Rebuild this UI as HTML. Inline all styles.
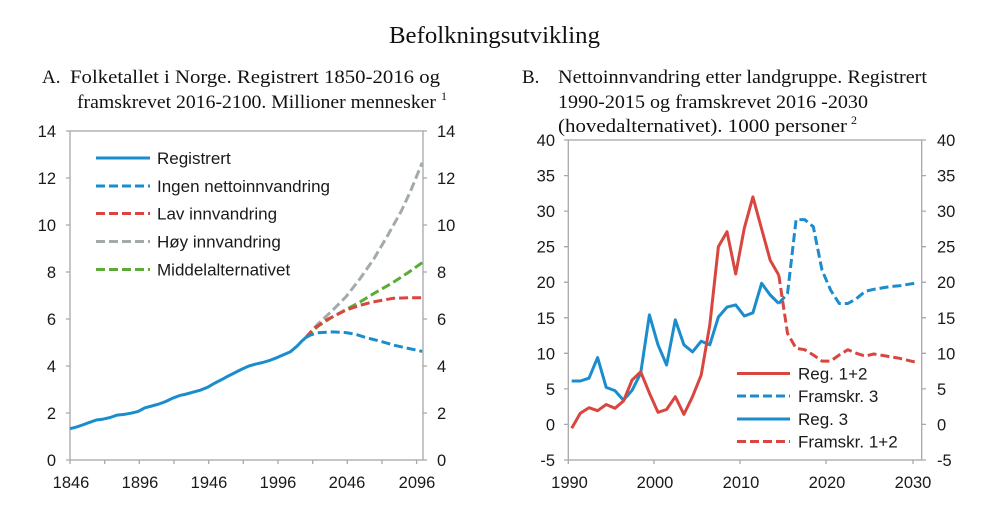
<!DOCTYPE html>
<html>
<head>
<meta charset="utf-8">
<style>
html,body{margin:0;padding:0;background:#fff;}
svg{display:block;}
.serif{font-family:"Liberation Serif","Times New Roman",serif;fill:#111;}
.sans{font-family:"Liberation Sans",Arial,sans-serif;fill:#1a1a1a;}
.tick{font-size:16.5px;}
.leg{font-size:17px;}
.ax{stroke:#a8a8a8;stroke-width:1.3;fill:none;}
.ln{fill:none;stroke-width:3;stroke-linejoin:round;stroke-linecap:butt;}
</style>
</head>
<body>
<svg width="1000" height="519" viewBox="0 0 1000 519" xmlns="http://www.w3.org/2000/svg">
<!-- Title -->
<text class="serif" x="389" y="43" font-size="24.5" textLength="211" lengthAdjust="spacingAndGlyphs">Befolkningsutvikling</text>

<!-- Subtitle A -->
<text class="serif" x="42" y="83" font-size="19">A.</text>
<text class="serif" x="70" y="83" font-size="19" textLength="370" lengthAdjust="spacingAndGlyphs">Folketallet  i Norge. Registrert   1850-2016 og</text>
<text class="serif" x="77" y="108" font-size="19" textLength="359" lengthAdjust="spacingAndGlyphs">framskrevet  2016-2100. Millioner mennesker</text>
<text class="serif" x="441" y="100" font-size="12">1</text>

<!-- Subtitle B -->
<text class="serif" x="522" y="83" font-size="19">B.</text>
<text class="serif" x="558" y="83" font-size="19" textLength="369" lengthAdjust="spacingAndGlyphs">Nettoinnvandring etter landgruppe. Registrert</text>
<text class="serif" x="558" y="108" font-size="19" textLength="310" lengthAdjust="spacingAndGlyphs">1990-2015 og framskrevet 2016 -2030</text>
<text class="serif" x="558" y="132" font-size="19" textLength="289" lengthAdjust="spacingAndGlyphs">(hovedalternativet). 1000 personer</text>
<text class="serif" x="851" y="124" font-size="12">2</text>

<!-- ============ LEFT CHART ============ -->
<rect class="ax" x="70" y="131" width="353" height="329"/>
<g class="ax">
  <path d="M66 460H70M66 413H70M66 366H70M66 319H70M66 272H70M66 225H70M66 178H70M66 131H70"/>
  <path d="M423 460H427M423 413H427M423 366H427M423 319H427M423 272H427M423 225H427M423 178H427M423 131H427"/>
  <path d="M70 460V464M104.7 460V464M139.3 460V464M174 460V464M208.7 460V464M243.3 460V464M278 460V464M312.7 460V464M347.3 460V464M382 460V464M416.6 460V464"/>
</g>
<g class="sans tick" text-anchor="end">
  <text x="56" y="466">0</text>
  <text x="56" y="419">2</text>
  <text x="56" y="372">4</text>
  <text x="56" y="325">6</text>
  <text x="56" y="278">8</text>
  <text x="56" y="231">10</text>
  <text x="56" y="184">12</text>
  <text x="56" y="137">14</text>
</g>
<g class="sans tick">
  <text x="437" y="466">0</text>
  <text x="437" y="419">2</text>
  <text x="437" y="372">4</text>
  <text x="437" y="325">6</text>
  <text x="437" y="278">8</text>
  <text x="437" y="231">10</text>
  <text x="437" y="184">12</text>
  <text x="437" y="137">14</text>
</g>
<g class="sans tick" text-anchor="middle">
  <text x="71" y="488">1846</text>
  <text x="140" y="488">1896</text>
  <text x="209" y="488">1946</text>
  <text x="278" y="488">1996</text>
  <text x="347" y="488">2046</text>
  <text x="417" y="488">2096</text>
</g>

<!-- projections -->
<polyline class="ln" stroke="#a3aaaa" stroke-dasharray="9 4" points="305.7,337.6 318.2,323.7 332.1,310.8 346,296.7 359.8,279 373.7,259.1 387.6,235.6 401.4,210.9 411.1,189.8 422.2,162.7"/>
<polyline class="ln" stroke="#5cab36" stroke-dasharray="9 4" points="305.7,337.6 318.2,326.1 332.1,317.1 346,309.6 359.8,302.1 373.7,293.6 391.7,283.3 408.3,272.5 422.2,262.6"/>
<polyline class="ln" stroke="#d9463f" stroke-dasharray="9 4" points="305.7,337.6 314,328.4 326.5,319.9 346,310.1 359.8,305.4 372.3,302.1 393.1,298.3 408.3,297.8 422.2,297.8"/>
<polyline class="ln" stroke="#1b8ccc" stroke-dasharray="9 4" points="305.7,337.6 311.3,334.7 319.6,332.6 332.1,331.9 346,332.6 355.6,334.3 366.7,337.8 380.6,341.3 394.5,345.3 408.3,348.4 422.2,351.4"/>
<!-- registered -->
<polyline class="ln" stroke="#1b8ccc" points="70,428.7 75.5,427.3 82.5,425 89.4,422.4 96.3,420 103.3,419.1 110.2,417.5 117.1,415.1 124.1,414.4 131,413.2 137.9,411.6 144.9,407.8 151.8,406 158.7,404.1 165.7,401.5 172.6,398.2 179.5,395.6 186.5,394 193.4,392.1 200.3,390.2 207.3,387.4 214.2,383.4 221.1,379.9 228.1,376.1 235,372.6 241.9,369.1 248.9,366 255.8,364.1 262.7,362.5 269.7,360.4 276.6,357.8 283.5,354.7 290.5,351.7 297.4,345.8 301.6,341.3 305.7,337.6"/>

<!-- left legend -->
<line class="ln" stroke="#1b8ccc" x1="96" y1="158" x2="150" y2="158"/>
<line class="ln" stroke="#1b8ccc" stroke-dasharray="9 4" x1="96" y1="186" x2="150" y2="186"/>
<line class="ln" stroke="#d9463f" stroke-dasharray="9 4" x1="96" y1="213.5" x2="150" y2="213.5"/>
<line class="ln" stroke="#a3aaaa" stroke-dasharray="9 4" x1="96" y1="241.5" x2="150" y2="241.5"/>
<line class="ln" stroke="#5cab36" stroke-dasharray="9 4" x1="96" y1="269.5" x2="150" y2="269.5"/>
<g class="sans leg">
  <text x="157" y="164">Registrert</text>
  <text x="157" y="192">Ingen nettoinnvandring</text>
  <text x="157" y="219.5">Lav innvandring</text>
  <text x="157" y="247.5">Høy innvandring</text>
  <text x="157" y="275.5">Middelalternativet</text>
</g>

<!-- ============ RIGHT CHART ============ -->
<rect class="ax" x="568.3" y="140" width="353.4" height="320"/>
<g class="ax">
  <path d="M564 460H568.3M564 424.4H568.3M564 388.9H568.3M564 353.3H568.3M564 317.8H568.3M564 282.2H568.3M564 246.7H568.3M564 211.1H568.3M564 175.6H568.3M564 140H568.3"/>
  <path d="M921.7 460H926M921.7 424.4H926M921.7 388.9H926M921.7 353.3H926M921.7 317.8H926M921.7 282.2H926M921.7 246.7H926M921.7 211.1H926M921.7 175.6H926M921.7 140H926"/>
  <path d="M568.3 460V464M654 460V464M740 460V464M826 460V464M913 460V464"/>
</g>
<g class="sans tick" text-anchor="end">
  <text x="555" y="466">-5</text>
  <text x="555" y="430.4">0</text>
  <text x="555" y="394.9">5</text>
  <text x="555" y="359.3">10</text>
  <text x="555" y="323.8">15</text>
  <text x="555" y="288.2">20</text>
  <text x="555" y="252.7">25</text>
  <text x="555" y="217.1">30</text>
  <text x="555" y="181.6">35</text>
  <text x="555" y="146">40</text>
</g>
<g class="sans tick">
  <text x="937" y="466">-5</text>
  <text x="937" y="430.4">0</text>
  <text x="937" y="394.9">5</text>
  <text x="937" y="359.3">10</text>
  <text x="937" y="323.8">15</text>
  <text x="937" y="288.2">20</text>
  <text x="937" y="252.7">25</text>
  <text x="937" y="217.1">30</text>
  <text x="937" y="181.6">35</text>
  <text x="937" y="146">40</text>
</g>
<g class="sans tick" text-anchor="middle">
  <text x="569.5" y="488">1990</text>
  <text x="655" y="488">2000</text>
  <text x="741" y="488">2010</text>
  <text x="827" y="488">2020</text>
  <text x="913" y="488">2030</text>
</g>

<!-- Framskr. 3 -->
<polyline class="ln" stroke="#1b8ccc" stroke-dasharray="9 4" points="778.8,303.5 787.5,293.6 796.1,219.6 804.7,219.6 813.3,226.7 822,270.1 830.6,290 839.2,303.5 847.9,303.5 856.5,298.6 865.1,291.4 873.8,289.3 882.4,287.9 891,286.5 899.6,285.8 908.3,284.3 916.9,282.9"/>
<!-- Framskr. 1+2 -->
<polyline class="ln" stroke="#d9463f" stroke-dasharray="9 4" points="778.8,275.1 787.5,333.4 796.1,348.3 804.7,349.7 813.3,355 822,361.1 830.6,361.1 839.2,355 847.9,349.7 856.5,353.3 865.1,356.1 873.8,354 882.4,355.4 891,356.9 899.6,358.3 908.3,360.4 916.9,362.5"/>
<!-- Reg. 3 -->
<polyline class="ln" stroke="#1b8ccc" points="571.7,381 580.3,381 589,378.2 597.6,357.6 606.2,387.4 614.9,390.6 623.5,400.2 632.1,390.3 640.7,373.2 649.4,314.9 658,344.8 666.6,365 675.3,319.9 683.9,344.8 692.5,351.9 701.2,341.2 709.8,344.8 718.4,317 727,307.1 735.7,304.9 744.3,316 752.9,312.8 761.6,283.3 770.2,295 778.8,303.5"/>
<!-- Reg. 1+2 -->
<polyline class="ln" stroke="#d9463f" points="571.7,428.3 580.3,413.3 589,407.7 597.6,410.7 606.2,404.5 614.9,408.3 623.5,401 632.1,380 640.7,371.8 649.4,393.1 658,412.3 666.6,409.5 675.3,396.7 683.9,414.4 692.5,396.7 701.2,375 709.8,324.9 718.4,246.6 727,231.7 735.7,274 744.3,228.2 752.9,196.9 761.6,228.9 770.2,260.2 778.8,275.1"/>

<!-- right legend -->
<line class="ln" stroke="#d9463f" x1="737" y1="373.5" x2="790" y2="373.5"/>
<line class="ln" stroke="#1b8ccc" stroke-dasharray="9 4" x1="737" y1="396" x2="790" y2="396"/>
<line class="ln" stroke="#1b8ccc" x1="737" y1="419" x2="790" y2="419"/>
<line class="ln" stroke="#d9463f" stroke-dasharray="9 4" x1="737" y1="441.5" x2="790" y2="441.5"/>
<g class="sans leg">
  <text x="798" y="379.5">Reg. 1+2</text>
  <text x="798" y="402">Framskr. 3</text>
  <text x="798" y="425">Reg. 3</text>
  <text x="798" y="447.5">Framskr. 1+2</text>
</g>
</svg>
</body>
</html>
